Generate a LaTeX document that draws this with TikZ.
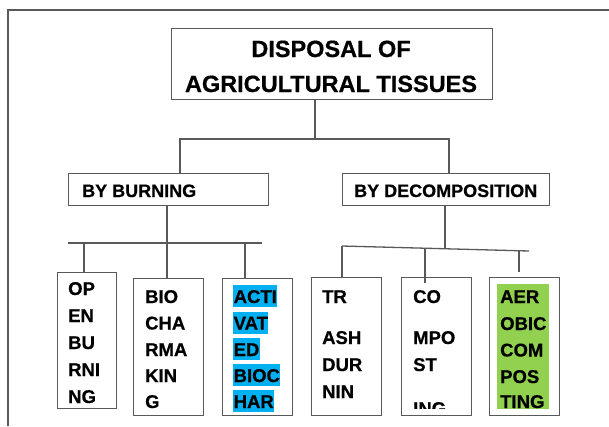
\documentclass[tikz,border=0pt]{standalone}
\usepackage{fontspec}
\setmainfont{Liberation Sans}[BoldFeatures={FakeBold=0.6}]
\definecolor{linegray}{HTML}{595959}
\definecolor{hlblue}{HTML}{00B0F0}
\definecolor{hlgreen}{HTML}{92D050}
\begin{document}
\begin{tikzpicture}[x=1pt,y=-1pt,
  link/.style={draw=linegray, line width=1.3pt},
  box/.style={draw=linegray, line width=1.3pt, inner sep=0pt, anchor=north west},
  titletext/.style={anchor=base, inner sep=0pt, font=\bfseries\fontsize{23.5}{26}\selectfont},
  headtext/.style={anchor=base west, inner sep=0pt, font=\bfseries\fontsize{18}{20}\selectfont},
  leaftext/.style={anchor=base west, inner sep=0pt, font=\bfseries\fontsize{18.5}{20}\selectfont},
  bluetext/.style={leaftext, fill=hlblue, text height=18pt, text depth=4pt, inner xsep=0.5pt},
]
% page area
\useasboundingbox (0,0) rectangle (609,426);
\fill[white] (0,0) rectangle (609,426);
% open frame along the top and left edges
\draw[draw=linegray, line width=1.4pt] (8,426) -- (8,10) -- (609,10);

% root
\node[box, minimum width=321pt, minimum height=71pt] (title) at (171,28) {};
\node[titletext] (t1) at (331,57) {DISPOSAL OF};
\node[titletext] (t2) at (331,92) {AGRICULTURAL TISSUES};

% second level
\node[box, minimum width=200pt, minimum height=32pt] (burn) at (68,173) {};
\node[headtext] (burntext) at (82,197) {BY BURNING};
\node[box, minimum width=207pt, minimum height=32pt] (dec) at (342,173) {};
\node[headtext] (dectext) at (354,197) {BY DECOMPOSITION};

% leaves under burning
\node[box, minimum width=59pt, minimum height=136pt] (open) at (57,272) {};
\node[leaftext] (o1) at (68,295) {OP};
\node[leaftext] (o2) at (68,322) {EN};
\node[leaftext] (o3) at (68,349) {BU};
\node[leaftext] (o4) at (68,376) {RNI};
\node[leaftext] (o5) at (68,403) {NG};

\node[box, minimum width=70pt, minimum height=137pt] (bioc) at (133,278) {};
\node[leaftext] (b1) at (145,303) {BIO};
\node[leaftext] (b2) at (145,329.5) {CHA};
\node[leaftext] (b3) at (145,356) {RMA};
\node[leaftext] (b4) at (145,382) {KIN};
\node[leaftext] (b5) at (145,408) {G};

\node[box, minimum width=70pt, minimum height=137pt] (act) at (222,278) {};
\node[bluetext] (a1) at (233,303) {ACTI};
\node[bluetext] (a2) at (233,329.5) {VAT};
\node[bluetext] (a3) at (233,356) {ED};
\node[bluetext] (a4) at (233,382) {BIOC};
\node[bluetext] (a5) at (233,408) {HAR};

% leaves under decomposition
\node[box, minimum width=70pt, minimum height=138pt] (trash) at (311,277) {};
\node[leaftext] (r1) at (322,303) {TR};
\node[leaftext] (r2) at (322,344) {ASH};
\node[leaftext] (r3) at (322,371) {DUR};
\node[leaftext] (r4) at (322,398) {NIN};

\node[box, minimum width=70pt, minimum height=138pt] (comp) at (401,277) {};
\node[leaftext] (c1) at (413,303) {CO};
\node[leaftext] (c2) at (413,344) {MPO};
\node[leaftext] (c3) at (413,371) {ST};
\begin{scope}
  \clip (401,277) rectangle (471,408);
  \node[leaftext] (c4) at (413,415) {ING};
\end{scope}

\node[box, minimum width=70pt, minimum height=138pt] (aer) at (489,277) {};
\node[fill=hlgreen, inner sep=0pt, anchor=north west, minimum width=52pt, minimum height=125pt] (aerfill) at (497,284) {};
\node[leaftext] (g1) at (500,303) {AER};
\node[leaftext] (g2) at (500,330) {OBIC};
\node[leaftext] (g3) at (500,356.5) {COM};
\node[leaftext] (g4) at (500,383) {POS};
\node[leaftext] (g5) at (500,408) {TING};

% junction points
\coordinate (topbus) at (315,139);
\coordinate (busL) at (180,139);
\coordinate (busR) at (449,139);
\coordinate (bbL) at (68,243);
\coordinate (bbR) at (262,243);
\coordinate (bd1) at (84,243);
\coordinate (bd2) at (167,243);
\coordinate (bd3) at (245,243);
\coordinate (dbL) at (342,246);
\coordinate (dbR) at (529,251);
\coordinate (dstem) at (445,248.8);
\coordinate (dd2) at (425,248.2);
\coordinate (dd3) at (519,250.7);
\coordinate (dd2end) at (425,283);
\coordinate (dd3end) at (519,272);

% connectors
\draw[link] (title.south -| topbus) -- (topbus);
\draw[link] (burn.north -| busL) |- (busR) -- (dec.north -| busR);

\draw[link] (burn.south -| bd2) -- (bd2);
\draw[link] (bbL) -- (bbR);
\draw[link] (bd1) -- (open.north -| bd1);
\draw[link] (bd2) -- (bioc.north -| bd2);
\draw[link] (bd3) -- (act.north -| bd3);

\draw[link] (dec.south -| dstem) -- (dstem);
\draw[link] (dbL) -- (dbR);
\draw[link] (dbL) -- (trash.north -| dbL);
\draw[link] (dd2) -- (dd2end);
\draw[link] (dd3) -- (dd3end);
\end{tikzpicture}
\end{document}
